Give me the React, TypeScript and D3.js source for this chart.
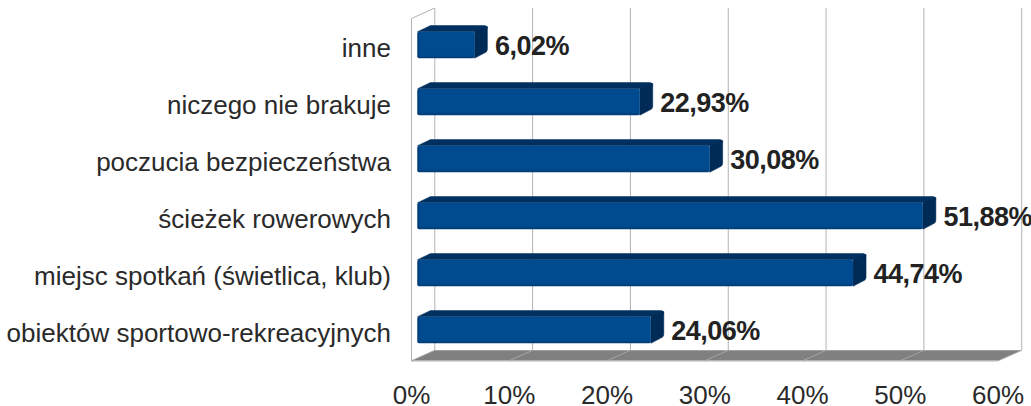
import React from "react";
import * as d3 from "d3";

const categories = ["inne", "niczego nie brakuje", "poczucia bezpieczeństwa", "ścieżek rowerowych", "miejsc spotkań (świetlica, klub)", "obiektów sportowo-rekreacyjnych"];
const values = [6.02, 22.93, 30.08, 51.88, 44.74, 24.06];
const valueLabels = ["6,02%", "22,93%", "30,08%", "51,88%", "44,74%", "24,06%"];
const ticks = [0, 10, 20, 30, 40, 50, 60];
const FONT = "'Liberation Sans', Arial, sans-serif";

export default function App() {
  const xFront = d3.scaleLinear().domain([0, 60]).range([415.5, 1002.3]);
  const xWall = d3.scaleLinear().domain([0, 60]).range([434.8, 1021.7]);
  const xAxis = d3.scaleLinear().domain([0, 60]).range([411.5, 998]);
  const yBand = d3.scalePoint<string>().domain(categories).range([31.7, 316.7]);
  const wallTop = 8, floorBack = 350.3, floorFront = 360.8;
  const h = 26.6, dx = 13, dy = 6.2;
  return (
    <svg width={1031} height={406} style={{ position: "absolute", left: 0, top: 0, background: "#fff" }}>
      <defs>
        <linearGradient id="front" x1="0" x2="0" y1="0" y2="1">
          <stop offset="0" stopColor="#004a8f" />
          <stop offset="0.88" stopColor="#004a8f" />
          <stop offset="1" stopColor="#003a73" />
        </linearGradient>
        <linearGradient id="frontEdge" x1="0" x2="1" y1="0" y2="0">
          <stop offset="0" stopColor="#003a73" />
          <stop offset="1" stopColor="#003a73" stopOpacity={0} />
        </linearGradient>
      </defs>
      <path d={`M${xAxis(0)},${floorFront}V${wallTop + 10.5}L${xWall(0)},${wallTop}`} fill="none" stroke="#b3b3b3" strokeWidth={1} />
      <path
        d={`M${xAxis(0)},${floorFront}L${xWall(0)},${floorBack}H${xWall(60)}L${xAxis(60)},${floorFront}Z`}
        fill="#808080"
      />
      <line x1={xAxis(0)} x2={xAxis(60)} y1={floorFront} y2={floorFront} stroke="#b3b3b3" strokeWidth={1.5} />
      {ticks.map((t) => (
        <g key={t}>
          <line x1={xWall(t)} x2={xWall(t)} y1={wallTop} y2={floorBack} stroke="#b3b3b3" strokeWidth={1} />
          <line x1={xWall(t)} x2={xAxis(t)} y1={floorBack} y2={floorFront} stroke="#a6a6a6" strokeWidth={1} />
          <text x={xAxis(t)} y={404} textAnchor="middle" fontFamily={FONT} fontSize={26} fill="#2a2a2a">{t}%</text>
        </g>
      ))}
      {categories.map((c, i) => {
        const x0 = xFront(0) + 2, x1 = xFront(values[i]), y = yBand(c)!;
        return (
          <g key={c}>
            <path d={`M${x0},${y}L${x0 + dx},${y - dy}H${x1 + dx - 3}Q${x1 + dx},${y - dy} ${x1 + dx},${y - dy + 3}L${x1},${y}Z`} fill="#00305f" stroke="#00305f" strokeWidth={0.5} strokeLinejoin="round" />
            <path d={`M${x1},${y}L${x1 + dx},${y - dy + 1}V${y + h - dy - 3}Q${x1 + dx},${y + h - dy} ${x1 + dx - 3},${y + h - dy + 1}L${x1},${y + h}Z`} fill="#002b57" stroke="#002b57" strokeWidth={0.5} strokeLinejoin="round" />
            <rect x={x0} y={y} width={x1 - x0} height={h} rx={2} fill="url(#front)" />
            <rect x={x0} y={y} width={3} height={h} rx={1.5} fill="url(#frontEdge)" />
            <text x={391} y={y + 25} textAnchor="end" fontFamily={FONT} fontSize={26} fill="#2a2a2a">{c}</text>
            <text x={x1 + 20.5} y={y + 23.5} fontFamily={FONT} fontSize={27} fontWeight="bold" letterSpacing={-0.5} fill="#222">{valueLabels[i]}</text>
          </g>
        );
      })}
    </svg>
  );
}
